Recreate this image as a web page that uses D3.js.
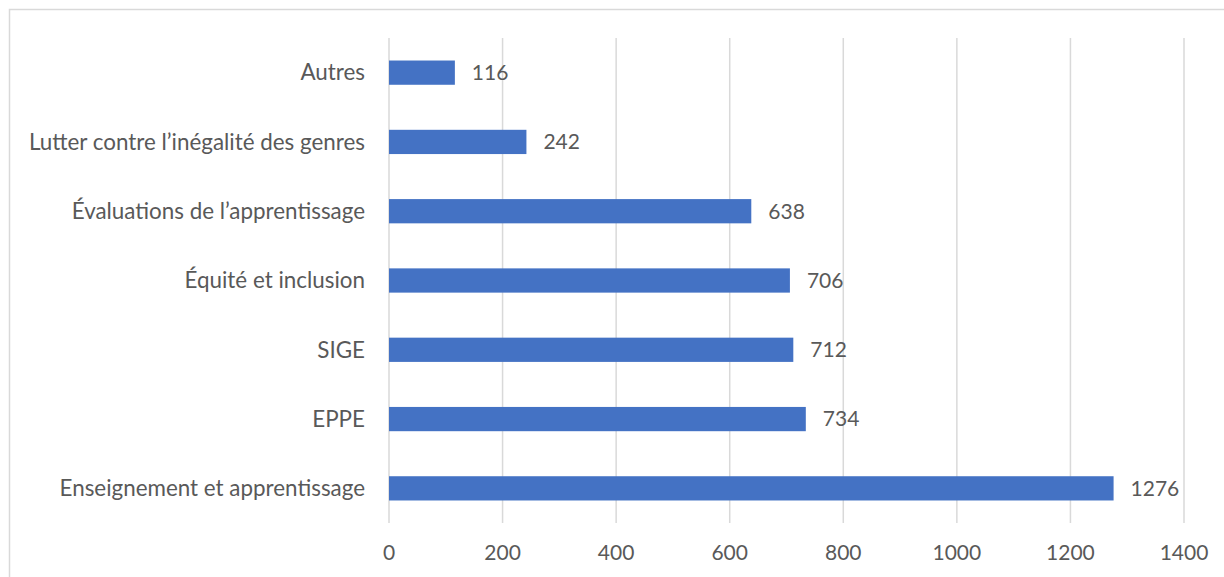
<!DOCTYPE html>
<html>
<head>
<meta charset="utf-8">
<script src="https://cdn.jsdelivr.net/npm/d3@7"></script>
<style>
  body { margin: 0; background: #fff; }
  text { font-family: Lato, "Liberation Sans", sans-serif; fill: #595959; }
</style>
</head>
<body>
<div id="chart"></div>
<script>
const categories = ["Autres", "Lutter contre l’inégalité des genres", "Évaluations de l’apprentissage",
                    "Équité et inclusion", "SIGE", "EPPE", "Enseignement et apprentissage"];
const values = [116, 242, 638, 706, 712, 734, 1276];
const xTicks = [0, 200, 400, 600, 800, 1000, 1200, 1400];

const data = categories.map((c, i) => ({ cat: c, value: values[i] }));

const width = 1224,
      height = 577,
      margin = ({ top: 38, right: 40, bottom: 54, left: 389 });

let svg = d3.select("#chart")
    .append("svg")
    .attr("width", width)
    .attr("height", height);

// outer chart border (right and bottom run off the picture)
svg.append("rect")
    .attr("x", 9.5).attr("y", 9.5)
    .attr("width", width).attr("height", height)
    .attr("fill", "none")
    .attr("stroke", "#d9d9d9")
    .attr("stroke-width", 1.5);

let x = d3.scaleLinear()
    .domain([0, 1400])
    .range([margin.left, width - margin.right]);

let y = d3.scaleBand()
    .domain(categories)
    .range([margin.top, height - margin.bottom])
    .paddingInner(0.65)
    .paddingOuter(0.325);

// vertical gridlines
svg.append("g")
    .selectAll("line")
    .data(xTicks)
    .join("line")
    .attr("x1", d => x(d)).attr("x2", d => x(d))
    .attr("y1", margin.top).attr("y2", height - margin.bottom)
    .attr("stroke", "#d9d9d9")
    .attr("stroke-width", 1.5);

// x tick labels
svg.append("g")
    .selectAll("text")
    .data(xTicks)
    .join("text")
    .attr("x", d => x(d))
    .attr("y", 553)
    .attr("dy", "0.35em")
    .attr("text-anchor", "middle")
    .style("font-size", "21px")
    .text(d => d);

// category labels
svg.append("g")
    .selectAll("text")
    .data(categories)
    .join("text")
    .attr("x", margin.left - 24)
    .attr("y", d => y(d) + y.bandwidth() / 2)
    .attr("dy", "0.35em")
    .attr("text-anchor", "end")
    .style("font-size", "22.4px")
    .text(d => d);

let bar = svg.selectAll(".bar")
    .data(data)
    .join("g")
    .attr("class", "bar");

bar.append("rect")
    .attr("fill", "#4472c4")
    .attr("x", x(0))
    .attr("y", d => y(d.cat))
    .attr("width", d => x(d.value) - x(0))
    .attr("height", y.bandwidth());

bar.append("text")
    .attr("x", d => x(d.value) + 17)
    .attr("y", d => y(d.cat) + y.bandwidth() / 2)
    .attr("dy", "0.35em")
    .style("font-size", "21px")
    .text(d => d.value);
</script>
</body>
</html>
